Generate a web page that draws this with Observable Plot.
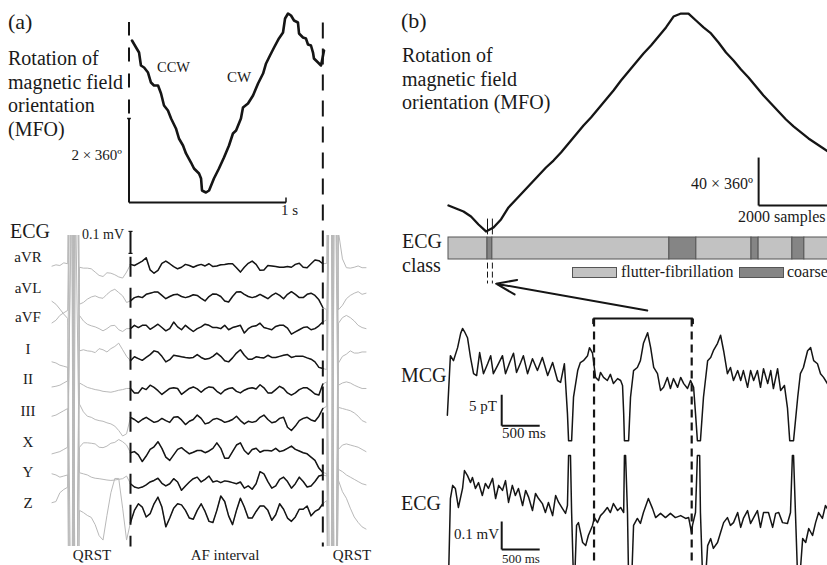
<!DOCTYPE html>
<html><head><meta charset="utf-8">
<script src="https://cdn.jsdelivr.net/npm/d3@7"></script>
<script src="https://cdn.jsdelivr.net/npm/@observablehq/plot@0.6"></script>
<style>
body{margin:0;background:#fff}
#fig{position:relative;width:827px;height:565px;overflow:hidden;background:#fff;font-family:"Liberation Serif","Times New Roman",serif;color:#1a1a1a}
#fig svg{position:absolute;left:0;top:0;overflow:visible}
.lbl{position:absolute;white-space:nowrap;line-height:1}
.sw{position:absolute;box-sizing:border-box;border:1px solid #555}
</style></head><body><div id="fig"></div>
<script>
// ================= DATA =================
// Panel (a): MFO rotation (turns = multiples of 360°) vs time (s)
const mfoATime = [0.019,0.045,0.064,0.076,0.096,0.121,0.140,0.159,0.185,0.204,0.223,0.248,0.268,0.299,0.318,0.344,0.363,0.395,0.414,0.446,0.459,0.465,0.490,0.510,0.541,0.573,0.605,0.637,0.662,0.682,0.713,0.726,0.758,0.790,0.822,0.854,0.873,0.898,0.924,0.955,0.981,0.994,1.013,1.032,1.051,1.076,1.083,1.108,1.127,1.140,1.159,1.172,1.178,1.204,1.223,1.236,1.242];
const mfoATurns = [3.857,3.690,3.571,3.262,3.214,3.095,2.857,2.786,2.786,2.595,2.310,2.190,2.000,1.762,1.524,1.357,1.167,0.952,0.810,0.690,0.571,0.286,0.238,0.286,0.571,0.810,1.071,1.357,1.643,1.714,2.000,2.262,2.357,2.548,2.833,3.071,3.310,3.500,3.690,3.905,4.048,4.381,4.500,4.452,4.333,4.286,4.024,3.929,3.905,3.762,3.738,3.571,3.429,3.333,3.262,3.500,3.619];

// Panel (a): ECG leads in µV, sampled every 25 ms from -0.5 s (QRST, AF interval 0..1.225 s, QRST)
const leadNames = ["aVR","aVL","aVF","I","II","III","X","Y","Z"];
const ecgStart = -0.5, ecgDt = 0.025, afFirst = 20, afLast = 69;
const aVR = [-3,3,0,12,8, 2500,-2500, -8,-12,-12,-15,-30,-45,-50,-33,-35,-42,-52,-57,-30,
  5,0,10,20,35,-20,-35,-22,10,20,8,-5,-15,-8,5,0,-8,0,5,-2,8,-5,-2,3,5,8,8,-10,-30,-8,10,20,5,-22,-20,0,-2,-5,-8,-8,-5,-8,5,10,-8,-10,8,25,22,8,
  10,2500,-2500,150,30,-10,-12,-8,-2,-10,-10];
const aVL = [-22,-35,-57,-80,-100, -1800,2200, -35,-27,-12,-2,3,-5,-8,10,25,33,18,3,-27,
  -20,-5,0,-5,10,15,20,20,5,-10,0,8,10,0,-5,0,8,5,-8,-20,0,12,10,0,-20,-25,0,20,22,10,0,-5,0,10,0,-10,5,15,5,-10,10,22,10,-5,-5,10,15,5,-15,-50,
  -60,-1800,2000,-60,-40,-10,5,15,22,10,15];
const aVF = [21,33,55,67,78, 1500,-2000, 55,30,15,8,3,-5,-15,-5,8,10,-10,-18,-5,
  -5,10,0,10,10,-8,3,15,0,-15,-5,25,3,-10,10,-5,-18,-5,3,15,10,0,0,-5,10,-10,0,5,10,-25,-5,5,8,20,0,-5,-10,5,10,10,-3,-30,-20,-10,0,3,-10,-5,8,25,
  35,1500,-2200,20,45,55,45,30,10,0,-5];
const leadI = [-15,-20,-30,-35,-40, -2500,1600, 35,40,35,33,27,45,40,30,45,55,70,40,10,
  -10,8,0,-8,5,18,35,30,10,-15,-5,15,12,8,5,3,5,18,5,-3,0,10,25,10,-10,-15,3,25,40,15,-3,-3,8,5,3,15,5,5,10,15,18,5,10,10,10,3,-3,-15,-40,-45,
  -50,2200,-1600,-20,10,20,35,25,25,30,30];
const leadII = [12,15,20,30,40, 2000,-1500, 30,20,10,5,0,-3,-8,-10,-12,-8,-3,0,5,
  5,-15,-15,8,0,20,10,-5,-22,-8,5,8,5,-22,-8,5,12,3,-12,3,12,10,-8,-20,-3,5,8,-8,-15,-3,5,8,3,22,8,-15,-15,0,15,5,-15,-25,-15,0,8,8,-5,-20,-25,25,
  35,-2500,1400,20,30,35,30,20,12,5,5];
const leadIII = [20,25,35,45,55, -1600,2500, 75,40,20,15,5,0,-3,-10,-15,-25,-45,-70,-60,
  15,5,-8,5,15,3,-8,-3,10,0,-8,15,18,3,-18,-3,5,25,10,-15,-10,5,10,3,-8,-3,5,20,0,-15,-3,-8,-3,15,25,5,-10,-5,10,15,-30,-45,-25,0,10,15,3,-3,20,55,
  65,1700,-2500,60,55,50,45,35,20,0,-8];
const leadX = [-10,-5,0,10,20, 1200,-2500, 20,40,40,38,35,20,18,25,38,42,55,45,30,
  -5,0,-15,-45,-20,10,22,45,15,-25,-40,-15,10,18,3,-10,-3,5,5,-5,3,15,40,15,-30,-30,0,30,40,5,-12,10,15,-3,5,5,3,15,0,5,15,25,10,3,-5,-10,-25,-40,-75,-95,
  -100,-1300,2500,10,30,35,30,25,20,10,0];
const leadY = [40,35,25,30,35, -2200,1300, 45,40,35,25,20,18,15,12,10,12,15,18,30,
  -5,-20,-25,-20,-10,3,10,20,-3,-15,-5,18,3,-35,-15,3,18,25,3,15,30,3,8,0,8,5,0,-5,3,-25,-15,-30,-5,50,40,5,-25,-15,15,25,5,-25,-5,25,5,-20,-15,5,30,35,
  30,2500,-1200,60,50,35,25,15,5,-5,-10];
const leadZ = [50,55,95,110,120, 1800,-1800, 15,5,-8,-17,-50,-100,-120,-8,95,160,160,25,-120,
  -40,15,45,30,-15,0,45,75,30,-60,-20,25,45,40,15,-20,-25,15,45,10,-35,-40,15,80,55,-10,-50,15,70,30,-20,-20,10,35,35,15,-30,-5,45,20,-20,-35,-15,20,20,35,-10,10,20,45,
  60,-1900,1900,150,100,70,25,-15,-40,-60,-70];
const ecgLeads = [aVR, aVL, aVF, leadI, leadII, leadIII, leadX, leadY, leadZ];

// Panel (b): MFO rotation (turns) sampled every 200 samples
const mfoBStep = 200;
const mfoBTurns = [23.3,20.8,18.3,14.2,7.5,1.7,5.0,11.7,21.7,28.3,35.0,41.7,48.3,55.0,60.8,67.5,75.0,82.5,90.0,96.7,104.2,111.7,119.2,127.5,135.0,142.5,150.0,156.7,164.2,171.7,180.8,183.3,183.3,177.5,171.7,166.7,159.2,150.8,144.2,136.7,130.0,122.5,115.0,108.3,101.7,95.0,89.2,84.2,79.2,75.0,70.8,66.7];

// Panel (b): ECG class segments (sample index)
const classStart = [0,1040,1170,5890,6610,8080,8270,9170,9490];
const classEnd   = [1040,1170,5890,6610,8080,8270,9170,9490,10400];
const classType  = ["flutter-fibrillation","coarse","flutter-fibrillation","coarse","flutter-fibrillation","coarse","flutter-fibrillation","coarse","flutter-fibrillation"];
const zoomWindow = [1040, 1170];

// Panel (b): MCG (pT) vs time (ms)
const mcgTime = [-15,25,65,120,160,185,210,250,290,330,370,410,460,515,555,590,645,710,750,805,855,895,950,985,1040,1105,1170,1235,1305,1370,1435,1475,1525,1565,1580,1620,1645,1700,1735,1775,1830,1855,1895,1935,1975,2000,2040,2090,2130,2170,2225,2265,2290,2305,2315,2370,2395,2435,2485,2525,2565,2620,2660,2700,2750,2790,2830,2880,2920,2960,3015,3055,3095,3145,3185,3225,3250,3275,3315,3355,3410,3450,3485,3540,3580,3620,3670,3710,3750,3805,3845,3880,3935,3975,4015,4065,4105,4145,4200,4240,4275,4330,4370,4420,4460,4490,4540,4595,4630,4670,4725,4765,4805,4855,4895,4935,4985,5055];
const mcgValue = [-5.6,4.0,3.2,5.3,7.6,8.4,7.9,6.9,3.7,1.1,0.8,4.5,1.1,2.7,4.0,1.1,2.4,4.0,1.1,2.9,4.4,1.3,2.9,4.0,1.1,3.5,1.6,3.7,0.8,2.9,0.0,-0.3,2.7,-5.3,-9.7,-9.7,-2.7,1.6,2.9,3.2,4.0,5.3,4.4,0.5,0.0,1.3,0.5,0.0,1.0,-0.5,0.3,0.0,-0.8,-5.3,-9.7,-9.7,-2.7,1.6,2.1,3.2,6.0,7.7,5.3,2.1,1.1,-1.6,-1.1,0.5,-1.3,0.3,-1.1,0.5,-0.5,-1.3,0.0,-1.1,-5.3,-9.7,-9.7,-2.7,3.2,3.7,4.8,6.0,7.3,4.8,1.1,2.1,0.0,1.6,0.0,1.6,-1.1,1.6,0.0,1.6,-1.1,1.9,-0.5,1.6,-1.3,1.9,-1.6,-0.8,-4.4,-9.7,-9.7,-2.7,1.1,2.1,4.8,5.3,3.2,2.7,1.1,0.5,-0.5,-1.3];

// Panel (b): ECG (µV) vs time (ms)
const ecgBTime = [0,25,55,90,130,185,210,250,290,315,355,395,445,485,525,580,620,660,710,750,790,840,880,920,975,1015,1055,1105,1145,1185,1235,1275,1315,1370,1410,1450,1500,1540,1565,1580,1605,1620,1645,1660,1685,1710,1765,1805,1840,1895,1920,1960,2000,2040,2090,2130,2170,2225,2265,2305,2315,2330,2355,2370,2410,2435,2485,2525,2565,2630,2685,2725,2790,2855,2920,2985,3055,3120,3160,3200,3210,3250,3275,3305,3315,3345,3380,3410,3450,3485,3540,3580,3620,3670,3710,3750,3805,3845,3880,3935,3975,4015,4065,4105,4145,4210,4265,4305,4345,4395,4460,4500,4525,4540,4565,4595,4620,4660,4700,4740,4790,4830,4870,4920,4960,4985,5055];
const ecgBValue = [-286,7,54,43,-25,43,107,89,64,82,43,64,18,61,43,79,7,54,36,71,-7,54,18,43,-18,36,11,-36,25,7,-11,-43,-7,-54,18,-7,-29,-46,-18,161,161,-43,-286,-286,-89,-79,-150,-161,-125,-89,-61,-79,-54,-43,-25,-43,-11,-36,-25,-43,161,161,-43,-286,-286,-89,-64,-82,-43,7,-29,-61,-46,-61,-46,-61,-54,-64,-61,-118,-89,-43,161,161,-43,-286,-286,-161,-136,-171,-150,-114,-79,-61,-89,-79,-43,-96,-64,-36,-82,-61,-36,-96,-43,-43,-96,-46,-43,-79,-82,-43,161,161,-43,-286,-286,-136,-150,-100,-125,-79,-43,-64,-18,-29,0];

// ================= LAYOUT HELPERS =================
const W = 827, H = 565;
const fig = document.getElementById("fig");
const base = {width: W, height: H, style: {background: "transparent", overflow: "visible"}};
const ink = "#151515";
function label(text, x, baseline, size, anchor = "start") {
  const d = document.createElement("div");
  d.className = "lbl";
  d.textContent = text;
  d.style.fontSize = size + "px";
  d.style.left = x + "px";
  d.style.top = (baseline - 0.8375 * size) + "px";
  if (anchor === "middle") d.style.transform = "translateX(-50%)";
  if (anchor === "end") d.style.transform = "translateX(-100%)";
  fig.appendChild(d);
}
const seg = (x1, y1, x2, y2) => ({x1, y1, x2, y2});
const segs = (data, opts = {}) => Plot.link(data, {x1: "x1", y1: "y1", x2: "x2", y2: "y2", stroke: ink, strokeWidth: 2, ...opts});

// ================= PANEL (a) MFO =================
fig.appendChild(Plot.plot({
  ...base, margin: 0,
  x: {domain: [0, 1], range: [128.5, 285.5], axis: null},
  y: {domain: [0, 2], range: [202, 118], axis: null},
  marks: [
    segs([seg(0, 0, 0, 2), seg(0, 0, 1, 0)]),
    segs([seg(-0.012, 2, 0.012, 2), seg(1, 0, 1, 0.12)], {strokeWidth: 1.5}),
    segs([seg(0, 2.12, 0, 4.3)], {strokeDasharray: "14,12"}),
    Plot.line(mfoATime.map((t, i) => ({t, k: mfoATurns[i]})),
      {x: "t", y: "k", stroke: ink, strokeWidth: 2.6, strokeLinejoin: "round", strokeLinecap: "round"})
  ]
}));

// ================= PANEL (a) ECG =================
const laneSpacing = 141; // µV between stacked leads
const ecgRows = [];
ecgLeads.forEach((vals, li) => vals.forEach((v, i) =>
  ecgRows.push({lead: leadNames[li], i, t: ecgStart + i * ecgDt, y: v - li * laneSpacing})));
const afRows = ecgRows.filter(d => d.i >= afFirst && d.i <= afLast);
const afEnd = ecgStart + afLast * ecgDt;
fig.appendChild(Plot.plot({
  ...base, marginTop: 235, marginBottom: 19, marginLeft: 40, marginRight: 427,
  x: {domain: [0, 1], range: [130, 287], axis: null},
  y: {domain: [0, 100], range: [265, 243], axis: null},
  marks: [
    Plot.line(ecgRows, {x: "t", y: "y", z: "lead", stroke: "#b9b9b9", strokeWidth: 1, clip: true}),
    Plot.line(afRows, {x: "t", y: "y", z: "lead", stroke: ink, strokeWidth: 1.5, strokeLinejoin: "round"}),
    segs([seg(0, 55, 0, 155)]),
    segs([seg(-0.013, 155, 0.013, 155), seg(-0.013, 55, 0.013, 55)], {strokeWidth: 1.2}),
    segs([seg(0, 40, 0, -1277)], {strokeDasharray: "20,11"}),
    segs([seg(afEnd, 1104, afEnd, -1277)], {strokeDasharray: "16,10"})
  ]
}));

// ================= PANEL (b) MFO + ECG class =================
fig.appendChild(Plot.plot({
  ...base, margin: 0,
  x: {domain: [0, 2000], range: [448, 523], axis: null},
  y: {domain: [0, 40], range: [233, 185], axis: null},
  marks: [
    Plot.line(mfoBTurns.map((k, i) => ({s: i * mfoBStep, k})),
      {x: "s", y: "k", stroke: ink, strokeWidth: 2.3, strokeLinejoin: "round"}),
    segs([seg(8270, 23.3, 8270, 63.3), seg(8270, 23.3, 10270, 23.3)])
  ]
}));
const classRows = classStart.map((s, i) => ({x1: s, x2: classEnd[i], y1: 0, y2: 1, type: classType[i]}));
fig.appendChild(Plot.plot({
  ...base, margin: 0,
  x: {domain: [0, 2000], range: [448, 523], axis: null},
  y: {domain: [0, 1], range: [259, 237], axis: null},
  marks: [
    Plot.rect(classRows, {x1: "x1", x2: "x2", y1: "y1", y2: "y2",
      fill: d => d.type === "coarse" ? "#858585" : "#c2c2c2", stroke: "#555", strokeWidth: 1}),
    segs(zoomWindow.map(s => seg(s, 1.14, s, 1.86)), {strokeWidth: 1}),
    segs(zoomWindow.map(s => seg(s, -0.14, s, -1.09)), {strokeWidth: 1, strokeDasharray: "6,3"}),
    Plot.arrow([seg(5300, -2.32, 1270, -1.1)], {x1: "x1", y1: "y1", x2: "x2", y2: "y2",
      stroke: ink, strokeWidth: 2, headLength: 16, headAngle: 40})
  ]
}));

// ================= PANEL (b) MCG =================
fig.appendChild(Plot.plot({
  ...base, margin: 0,
  x: {domain: [0, 500], range: [448, 486], axis: null},
  y: {domain: [0, 5], range: [380, 349], axis: null},
  marks: [
    Plot.line(mcgTime.map((t, i) => ({t, v: mcgValue[i]})),
      {x: "t", y: "v", stroke: ink, strokeWidth: 1.5, strokeLinejoin: "round"}),
    segs([seg(700, -7.3, 700, -2.3), seg(700, -7.3, 1200, -7.3)]),
    segs([seg(1905, 10, 3215, 10), seg(1905, 10, 1905, 9.1), seg(3215, 10, 3215, 9.1)], {strokeWidth: 2.2}),
    segs([seg(1915, 10, 1915, -31), seg(3200, 10, 3200, -31)], {strokeWidth: 2.2, strokeDasharray: "8,5"})
  ]
}));

// ================= PANEL (b) ECG =================
fig.appendChild(Plot.plot({
  ...base, margin: 0,
  x: {domain: [0, 500], range: [448, 486], axis: null},
  y: {domain: [0, 100], range: [500, 472], axis: null},
  marks: [
    Plot.line(ecgBTime.map((t, i) => ({t, v: ecgBValue[i]})),
      {x: "t", y: "v", stroke: ink, strokeWidth: 1.5, strokeLinejoin: "round"}),
    segs([seg(700, -175, 700, -75), seg(700, -175, 1200, -175)])
  ]
}));

// ================= TEXT =================
label("(a)", 8, 29, 22);
["Rotation of", "magnetic field", "orientation", "(MFO)"].forEach((s, i) => label(s, 8, 65 + i * 23.5, 20));
label("CCW", 157, 72, 14.5);
label("CW", 227, 83, 15);
label("2 × 360º", 122, 161, 15, "end");
label("1 s", 281, 216, 15);
label("ECG", 10, 238, 20);
label("0.1 mV", 82, 240, 14);
const laneLabelBase = [263, 294, 323, 355, 385, 417, 448, 478, 509];
leadNames.forEach((n, i) => label(n, 28, laneLabelBase[i], 15, "middle"));
label("QRST", 92, 561, 15, "middle");
label("AF interval", 225, 561, 15, "middle");
label("QRST", 352, 561, 15, "middle");

label("(b)", 401, 28, 22);
["Rotation of", "magnetic field", "orientation (MFO)"].forEach((s, i) => label(s, 402, 62 + i * 23.5, 20));
label("40 × 360º", 753, 189, 16, "end");
label("2000 samples", 738, 222, 16);
label("ECG", 402, 248, 20);
label("class", 402, 272, 20);
label("flutter-fibrillation", 621, 277, 16);
label("coarse", 787, 277, 16);
label("MCG", 401, 382, 20);
label("5 pT", 497, 412, 15, "end");
label("500 ms", 502, 439, 15);
label("ECG", 401, 510, 20);
label("0.1 mV", 499, 540, 15, "end");
label("500 ms", 502, 562.5, 13);

// legend swatches
[[572, "#c2c2c2"], [739, "#858585"]].forEach(([x, c]) => {
  const s = document.createElement("div");
  s.className = "sw";
  s.style.left = x + "px"; s.style.top = "267px";
  s.style.width = "45px"; s.style.height = "11px";
  s.style.background = c;
  fig.appendChild(s);
});
</script></body></html>
